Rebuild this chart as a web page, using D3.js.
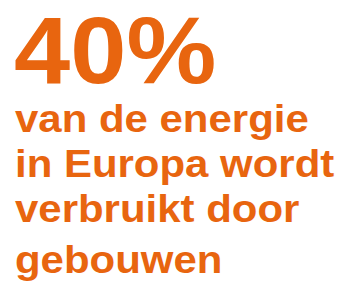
<!DOCTYPE html>
<html>
<head>
<meta charset="utf-8">
<script src="https://cdn.jsdelivr.net/npm/d3@7"></script>
<style>
  html, body { margin: 0; padding: 0; background: #fff; }
  svg { display: block; }
</style>
</head>
<body>
<svg id="chart" width="345" height="282"></svg>
<script>
// headline figure and caption lines
const headline = "40%";
const captionLines = ["van de energie", "in Europa wordt", "verbruikt door", "gebouwen"];

const orange = "#e8650f";
const font = "'Liberation Sans', Arial, Helvetica, sans-serif";
const svg = d3.select("#chart");

// big figure, a touch wider than plain Arial
svg.append("g")
  .attr("transform", "translate(14,83) scale(1.075,1)")
  .append("text")
  .attr("font-family", font)
  .attr("font-weight", "bold")
  .attr("font-size", 94)
  .attr("fill", orange)
  .text(headline);

// baseline for each caption line
const lineY = d3.scaleLinear().domain([0, 1, 2, 3]).range([131.5, 176.5, 221.5, 273]);

svg.selectAll("g.caption")
  .data(captionLines)
  .join("g")
  .attr("class", "caption")
  .attr("transform", (d, i) => `translate(15,${lineY(i)}) scale(1.09,1)`)
  .append("text")
  .attr("font-family", font)
  .attr("font-weight", "bold")
  .attr("font-size", 38.5)
  .attr("fill", orange)
  .text(d => d);
</script>
</body>
</html>
